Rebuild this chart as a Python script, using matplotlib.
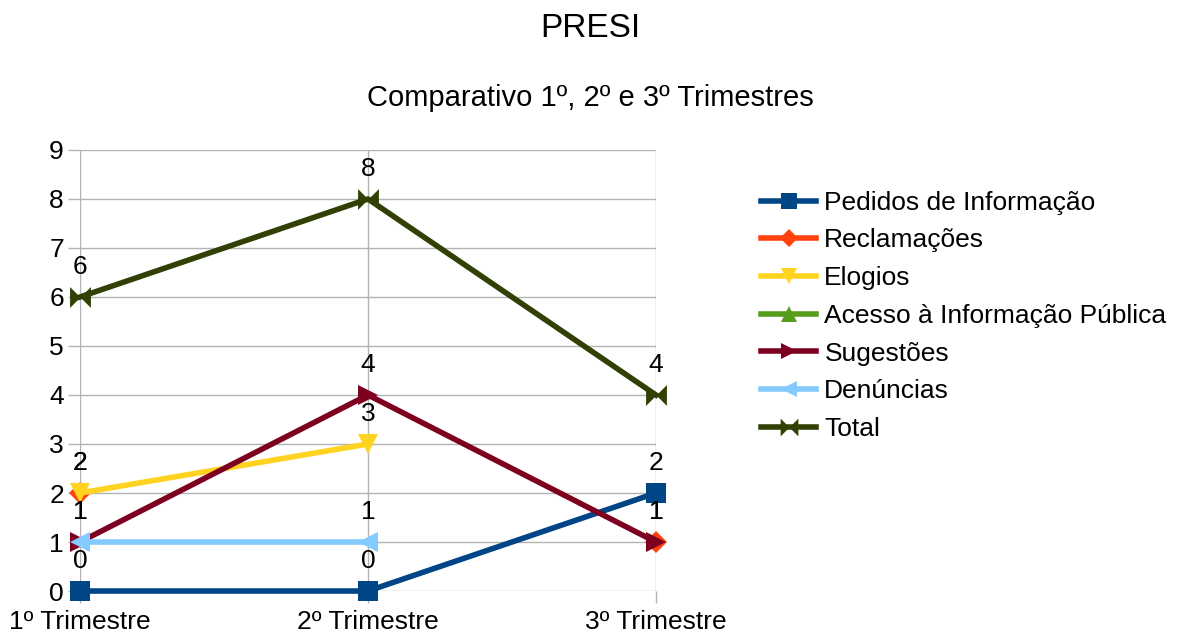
import numpy as np
import matplotlib
matplotlib.use('Agg')
from matplotlib import pyplot as plt

plt.rcParams['font.family'] = ['Liberation Sans', 'DejaVu Sans']

trimestres = ['1º Trimestre', '2º Trimestre', '3º Trimestre']

nan = np.nan
pedidos = [0, 0, 2]
reclamacoes = [2, nan, 1]
elogios = [2, 3, nan]
acesso = [nan, nan, nan]
sugestoes = [1, 4, 1]
denuncias = [1, 1, nan]
total = [6, 8, 4]

series_names = ['Pedidos de Informação', 'Reclamações', 'Elogios', 'Acesso à Informação Pública',
                'Sugestões', 'Denúncias', 'Total']
series_values = [pedidos, reclamacoes, elogios, acesso, sugestoes, denuncias, total]
colors = ['#004586', '#ff420e', '#ffd320', '#579d1c', '#7e0021', '#83caff', '#314004']
bowtie = [(-1, -1), (1, 1), (1, -1), (-1, 1), (-1, -1)]
markers = ['s', 'D', 'v', '^', '>', '<', bowtie]
msizes = [14, 11, 14, 14, 14, 14, 15]

fig = plt.figure(figsize=(11.8, 6.39), dpi=100)
ax = fig.add_axes([0.0678, 0.0751, 0.4881, 0.6902])

x = np.arange(len(trimestres))
for name, vals, c, m, ms in zip(series_names, series_values, colors, markers, msizes):
    ax.plot(x, vals, color=c, marker=m, markersize=ms, linewidth=4, label=name,
            markeredgewidth=0, clip_on=False)
    for xi, v in zip(x, vals):
        if not np.isnan(v):
            ax.annotate(str(int(v)), (xi, v), xytext=(0, 21.5), textcoords='offset points',
                        ha='center', va='center', fontsize=19)

ax.set_xlim(0, 2)
ax.set_ylim(0, 9)
ax.set_yticks(range(10))
ax.set_xticks(x)
ax.set_xticklabels(trimestres)
ax.grid(True, color='#b3b3b3', linewidth=1)
ax.set_axisbelow(True)
for s in ax.spines.values():
    s.set_visible(False)
ax.tick_params(axis='both', colors='#b3b3b3', labelcolor='black', labelsize=19, length=8.6, width=1)
ax.tick_params(axis='y', pad=3)
ax.tick_params(axis='x', pad=5)

fig.text(0.5, 0.956, 'PRESI', ha='center', va='center', fontsize=24)
fig.text(0.5, 0.847, 'Comparativo 1º, 2º e 3º Trimestres', ha='center', va='center', fontsize=21)

fig.legend(loc='upper left', bbox_to_anchor=(0.636, 0.718), frameon=False, fontsize=19,
           handlelength=2.1, handletextpad=0.3, labelspacing=0.52, numpoints=1, borderaxespad=0,
           markerscale=0.85)

fig.savefig('out.png', dpi=100)
